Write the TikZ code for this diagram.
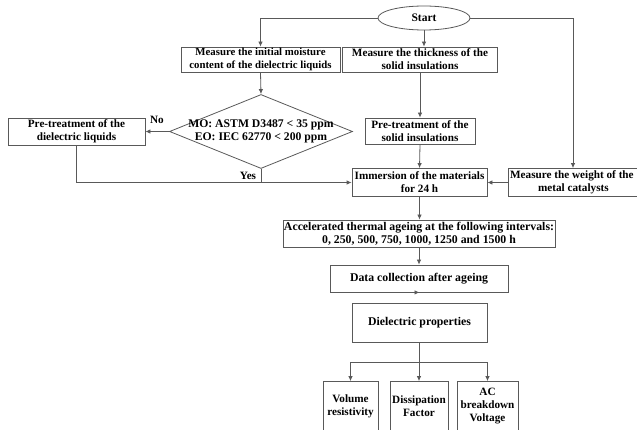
\documentclass[tikz,border=0pt]{standalone}
\usepackage{fontspec}
\setmainfont{Liberation Serif}
\usetikzlibrary{shapes.geometric,arrows.meta}
\newcommand{\myfs}[1]{\fontsize{#1}{13}\selectfont}
\begin{document}
\begin{tikzpicture}[x=1pt,y=-1pt,
  ln/.style={draw=black!65,line width=0.8pt},
  box/.style={ln,align=center,inner sep=0pt,font=\bfseries\myfs{11.2}},
  arr/.style={ln,-{Latex[length=5pt,width=4.5pt]}},
  lbl/.style={font=\bfseries\myfs{11.2},inner sep=0pt}]
\useasboundingbox (0,0) rectangle (637,430);
\node[box,ellipse,minimum width=92pt,minimum height=24pt] (start) at (424,18) {\myfs{11.5}Start};
\node[box,minimum width=159pt,minimum height=25pt,font=\bfseries\myfs{10.8}] (m1) at (260.5,59.5) {Measure the initial moisture\\content of the dielectric liquids};
\node[box,minimum width=155pt,minimum height=25pt] (m2) at (420,59.5) {Measure the thickness of the\\solid insulations};
\node[ln,diamond,inner sep=0pt,minimum width=183pt,minimum height=74pt] (dia) at (261,131.5) {};
\node[lbl,align=center,font=\bfseries\myfs{11.7}] (diatext) at (261,131.5) {MO: ASTM D3487 < 35 ppm\\EO: IEC 62770 < 200 ppm};
\node[box,minimum width=137pt,minimum height=27pt] (p1) at (76.5,131.5) {Pre-treatment of the\\dielectric liquids};
\node[box,minimum width=110pt,minimum height=26pt] (p2) at (420,131) {Pre-treatment of the\\solid insulations};
\node[box,minimum width=135pt,minimum height=28pt] (imm) at (419.5,182.5) {Immersion of the materials\\for 24 h};
\node[box,minimum width=130pt,minimum height=28pt,anchor=west] (wt) at (508,182.5) {\hspace*{-3pt}Measure the weight of the\\metal catalysts};
\node[box,minimum width=272pt,minimum height=27pt,font=\bfseries\myfs{11.8}] (acc) at (419,233.5) {Accelerated thermal ageing at the following intervals:\\0, 250, 500, 750, 1000, 1250 and 1500 h};
\node[box,minimum width=178pt,minimum height=27pt,font=\bfseries\myfs{11.8}] (dc) at (419,278.5) {Data collection after ageing};
\node[box,minimum width=135pt,minimum height=39pt,font=\bfseries\myfs{11.8}] (dp) at (419.5,322.5) {Dielectric properties};
\node[box,minimum width=55pt,minimum height=49pt] (vr) at (350.5,406) {Volume\\resistivity};
\node[box,minimum width=58pt,minimum height=49pt] (df) at (419,406) {Dissipation\\Factor};
\node[box,minimum width=61pt,minimum height=49pt] (ac) at (487.5,406) {AC\\breakdown\\Voltage};
\node[lbl] (no) at (157,120) {No};
\node[lbl] (yes) at (248,176) {Yes};
\coordinate (yb) at (261,182.5);
% connectors
\draw[arr] (start.west) -| (m1.north);
\draw[arr] (start.east) -| (wt.north -| 573,0);
\draw[arr] (start.south) -- (start.south |- m2.north);
\draw[arr] (m1.south) -- (dia.north);
\draw[arr] (dia.west) -- (p1.east);
\draw[arr] (m2.south -| p2.north) -- (p2.north);
\draw[arr] (p2.south) -- (imm.north);
\draw[arr] (p1.south) |- (imm.west);
\draw[ln] (dia.south) -- (yb);
\draw[arr] (wt.west) -- (imm.east);
\draw[arr] (imm.south) -- (imm.south |- acc.north);
\draw[arr] (acc.south -| dc.north) -- (dc.north);
\draw[arr] (dc.south) -- (dc.south -| dp.north);
\draw[ln] (dp.south) -- (dp.south |- 0,362);
\draw[arr] (vr.north |- 0,362) -- (vr.north);
\draw[arr] (df.north |- 0,362) -- (df.north);
\draw[arr] (ac.north |- 0,362) -- (ac.north);
\draw[ln] (vr.north |- 0,362) -- (ac.north |- 0,362);
\end{tikzpicture}
\end{document}
